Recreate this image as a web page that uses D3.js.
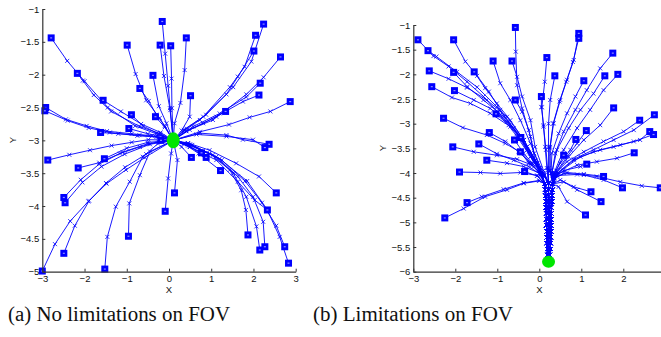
<!DOCTYPE html>
<html>
<head>
<meta charset="utf-8">
<script src="https://cdn.jsdelivr.net/npm/d3@7/dist/d3.min.js"></script>
<style>
  body { margin: 0; background: #fff; }
  svg { display: block; }
  .tick text { font-family: "Liberation Sans", Arial, sans-serif; font-size: 9.5px; fill: #111; }
  .axis path, .axis line { stroke: #333; }
  .lbl { font-family: "Liberation Sans", Arial, sans-serif; font-size: 9.5px; fill: #111; }
  .caption { font-family: "Liberation Serif", "DejaVu Serif", serif; font-size: 20px; fill: #111; }
</style>
</head>
<body>
<svg width="661" height="337"></svg>
<script>
// ---- data ---------------------------------------------------------------
// (a) every trajectory: start square first, then the sampled points; goal is appended
const goalA = [0.1, -3.0];
const trajA = [
  [[-2.79,-1.44],[-2.41,-1.79],[-2.0,-2.1],[-1.45,-2.5],[-0.8,-2.78],[-0.3,-2.9]],
  [[-2.17,-1.98],[-2.04,-2.09],[-1.78,-2.31],[-1.37,-2.56],[-0.69,-2.79],[-0.2,-2.9]],
  [[-1.56,-2.39],[-1.14,-2.56],[-0.66,-2.75],[-0.2,-2.88]],
  [[-2.92,-2.50],[-2.44,-2.68],[-1.95,-2.78],[-1.47,-2.86],[-0.88,-2.9],[-0.4,-2.93]],
  [[-2.94,-2.55],[-2.40,-2.70],[-1.90,-2.81],[-1.40,-2.88],[-0.75,-2.93],[-0.3,-2.95]],
  [[-0.89,-2.61],[-0.62,-2.78],[-0.25,-2.9]],
  [[-0.95,-2.82],[-0.5,-2.9],[-0.15,-2.94]],
  [[-1.62,-2.88],[-1.2,-2.9],[-0.7,-2.92],[-0.25,-2.95]],
  [[-0.32,-2.64],[-0.1,-2.8]],
  [[-0.69,-2.21],[-0.48,-2.40],[-0.30,-2.61],[-0.10,-2.78]],
  [[-0.38,-2.01],[-0.24,-2.48],[-0.06,-2.74]],
  [[-0.99,-1.55],[-0.79,-1.99],[-0.54,-2.39],[-0.22,-2.66]],
  [[-0.16,-1.19],[-0.09,-1.68],[-0.02,-2.17],[0.03,-2.54]],
  [[-0.21,-1.55],[-0.12,-2.02],[0.02,-2.51]],
  [[0.04,-1.56],[0.06,-2.06],[0.07,-2.51]],
  [[0.41,-1.44],[0.37,-1.93],[0.27,-2.43],[0.13,-2.74]],
  [[0.51,-2.32],[0.49,-2.64],[0.3,-2.85]],
  [[2.24,-1.23],[1.95,-1.80],[1.52,-2.19],[0.88,-2.61],[0.41,-2.82]],
  [[2.05,-1.40],[1.79,-1.88],[1.44,-2.19],[0.81,-2.64],[0.35,-2.84]],
  [[2.01,-1.64],[1.63,-2.03],[1.36,-2.30],[0.73,-2.69],[0.35,-2.86]],
  [[2.64,-1.73],[2.24,-2.04],[1.83,-2.30],[1.04,-2.69],[0.41,-2.86]],
  [[2.16,-2.13],[1.83,-2.34],[1.20,-2.59],[0.57,-2.79]],
  [[2.13,-2.31],[1.75,-2.41],[1.12,-2.64],[0.49,-2.84]],
  [[2.87,-2.41],[2.40,-2.56],[1.91,-2.65],[1.42,-2.76],[0.73,-2.87]],
  [[1.34,-2.56],[0.81,-2.74],[0.41,-2.86]],
  [[2.37,-3.06],[1.75,-2.99],[1.36,-2.92],[0.73,-2.89]],
  [[2.27,-3.11],[1.99,-2.99],[1.36,-2.94],[0.65,-2.91]],
  [[0.53,-3.26],[0.3,-3.1]],
  [[0.77,-3.19],[0.45,-3.08]],
  [[0.88,-3.26],[0.5,-3.1]],
  [[1.22,-3.46],[0.7,-3.2],[0.35,-3.05]],
  [[2.54,-3.80],[2.13,-3.55],[1.59,-3.35],[0.96,-3.15],[0.45,-3.04]],
  [[2.33,-4.06],[2.03,-3.91],[1.63,-3.63],[1.12,-3.30],[0.49,-3.10]],
  [[1.87,-4.44],[1.82,-4.06],[1.71,-3.76],[1.44,-3.45],[0.96,-3.20],[0.45,-3.06]],
  [[2.15,-4.67],[2.07,-4.31],[1.83,-3.86],[1.52,-3.50],[1.04,-3.22],[0.45,-3.05]],
  [[2.27,-4.62],[2.23,-4.24],[1.99,-3.86],[1.63,-3.55],[1.12,-3.25],[0.5,-3.06]],
  [[2.74,-4.62],[2.54,-4.30],[2.20,-3.95],[1.80,-3.62],[1.25,-3.30],[0.55,-3.07]],
  [[2.83,-4.87],[2.62,-4.47],[2.32,-4.05],[1.85,-3.62],[1.2,-3.28],[0.5,-3.08]],
  [[-0.19,-3.0]],
  [[-2.87,-3.30],[-2.36,-3.22],[-1.87,-3.15],[-1.36,-3.08],[-0.88,-3.03],[-0.49,-2.99]],
  [[-2.15,-3.42],[-1.65,-3.34],[-1.16,-3.20],[-0.69,-3.10],[-0.25,-3.02]],
  [[-1.53,-3.28],[-1.0,-3.12],[-0.5,-3.03]],
  [[-2.49,-3.87],[-2.09,-3.60],[-1.65,-3.36],[-1.1,-3.18],[-0.5,-3.05]],
  [[-2.46,-3.95],[-2.05,-3.64],[-1.6,-3.40],[-1.05,-3.21],[-0.45,-3.06]],
  [[-2.49,-4.72],[-2.23,-4.30],[-1.89,-3.92],[-1.49,-3.65],[-1.04,-3.41],[-0.54,-3.21]],
  [[-3.0,-4.99],[-2.70,-4.58],[-2.34,-4.23],[-1.91,-3.93],[-1.48,-3.66],[-1.02,-3.45],[-0.57,-3.26]],
  [[-1.52,-4.96],[-1.46,-4.47],[-1.26,-4.01],[-0.93,-3.63],[-0.62,-3.25],[-0.26,-3.05]],
  [[-0.96,-4.46],[-0.94,-3.96],[-0.69,-3.53],[-0.45,-3.17]],
  [[-0.09,-4.08],[-0.02,-3.58],[0.05,-3.2]],
  [[0.13,-3.80],[0.20,-3.30]]
];

// (b) trajectories run into the funnel, then follow one of three lanes down to the goal
const goalB = [0.22, -5.8];
const tailL = [[0.13,-4.22],[0.14,-4.34],[0.15,-4.46],[0.16,-4.58],[0.16,-4.7],[0.17,-4.82],[0.17,-4.94],
  [0.17,-5.06],[0.18,-5.18],[0.18,-5.3],[0.18,-5.42],[0.19,-5.54],[0.2,-5.66]];
const tailM = [[0.22,-4.2],[0.22,-4.32],[0.22,-4.44],[0.23,-4.56],[0.23,-4.68],[0.23,-4.8],[0.23,-4.92],
  [0.23,-5.04],[0.23,-5.16],[0.22,-5.28],[0.22,-5.4],[0.22,-5.52],[0.22,-5.64]];
const tailR = [[0.32,-4.22],[0.31,-4.34],[0.3,-4.46],[0.3,-4.58],[0.29,-4.7],[0.29,-4.82],[0.28,-4.94],
  [0.28,-5.06],[0.28,-5.18],[0.27,-5.3],[0.27,-5.42],[0.26,-5.54],[0.25,-5.66]];

const trajBL = [
  [[-2.89,-1.30],[-2.52,-1.63],[-2.16,-1.84],[-1.72,-2.15],[-1.33,-2.45],[-0.93,-2.82],[-0.53,-3.26],[-0.21,-3.67],[0.05,-4.02]],
  [[-2.65,-1.52],[-2.45,-1.64],[-1.96,-1.95],[-1.48,-2.26],[-1.01,-2.66],[-0.61,-3.09],[-0.25,-3.57],[0.04,-4.0]],
  [[-2.62,-1.93],[-2.16,-2.09],[-1.72,-2.27],[-1.25,-2.52],[-0.77,-2.86],[-0.37,-3.33],[-0.05,-3.8],[0.08,-4.05]],
  [[-2.56,-2.25],[-2.08,-2.47],[-1.64,-2.59],[-1.17,-2.79],[-0.69,-3.06],[-0.29,-3.47],[0.0,-3.9]],
  [[-2.04,-1.30],[-1.76,-1.74],[-1.48,-2.03],[-1.2,-2.35],[-0.93,-2.72],[-0.53,-3.20],[-0.21,-3.67],[0.05,-4.02]],
  [[-2.04,-1.96],[-1.72,-2.25],[-1.33,-2.52],[-0.85,-2.86],[-0.45,-3.26],[-0.1,-3.75]],
  [[-2.02,-2.33],[-1.56,-2.52],[-1.17,-2.69],[-0.77,-2.96],[-0.37,-3.33],[-0.05,-3.8]],
  [[-1.55,-1.95],[-1.29,-2.28],[-1.01,-2.59],[-0.69,-2.93],[-0.37,-3.33],[-0.08,-3.78]],
  [[-1.10,-1.73],[-0.93,-2.18],[-0.69,-2.52],[-0.45,-2.93],[-0.21,-3.40],[0.02,-3.9]],
  [[-1.03,-2.80],[-0.73,-3.03],[-0.45,-3.26],[-0.21,-3.60],[0.0,-3.95]],
  [[-2.28,-2.89],[-1.82,-3.08],[-1.25,-3.23],[-0.81,-3.40],[-0.41,-3.60],[-0.13,-3.87],[0.05,-4.05]],
  [[-1.19,-3.18],[-0.81,-3.36],[-0.49,-3.57],[-0.21,-3.80],[0.03,-4.02]],
  [[-1.44,-3.41],[-1.01,-3.61],[-0.61,-3.74],[-0.25,-3.87],[0.03,-4.03]],
  [[-2.06,-3.47],[-1.56,-3.57],[-1.01,-3.64],[-0.53,-3.72],[-0.17,-3.84],[0.05,-4.03]],
  [[-1.25,-3.74],[-0.77,-3.80],[-0.37,-3.87],[0.0,-4.0]],
  [[-1.90,-3.98],[-1.40,-3.99],[-0.93,-4.01],[-0.45,-3.99],[-0.05,-4.05]],
  [[-0.35,-3.97],[-0.05,-4.06]],
  [[-1.72,-4.60],[-1.37,-4.48],[-0.85,-4.33],[-0.37,-4.20],[0.0,-4.15]],
  [[-2.25,-4.91],[-1.80,-4.72],[-1.29,-4.48],[-0.77,-4.34],[-0.37,-4.21],[0.0,-4.16]]
];
const trajBM = [
  [[-0.65,-1.73],[-0.53,-2.05],[-0.41,-2.45],[-0.21,-2.93],[-0.10,-3.47],[0.1,-3.95]],
  [[-0.57,-1.05],[-0.56,-1.54],[-0.53,-2.22],[-0.41,-2.69],[-0.21,-3.26],[-0.10,-3.74],[0.12,-4.05]],
  [[-0.57,-2.52],[-0.41,-2.76],[-0.25,-3.13],[-0.12,-3.60],[0.1,-4.0]],
  [[-0.59,-3.33],[-0.37,-3.60],[-0.17,-3.80],[0.1,-4.05]],
  [[-0.44,-3.28],[-0.29,-3.53],[-0.13,-3.77],[0.12,-4.05]],
  [[-0.45,-3.57],[-0.25,-3.80],[0.1,-4.05]],
  [[0.05,-2.45],[0.05,-2.66],[0.10,-3.03],[0.14,-3.47],[0.18,-3.9]],
  [[0.18,-1.66],[0.13,-2.15],[0.06,-2.67],[0.10,-3.06],[0.16,-3.53],[0.2,-3.95]],
  [[0.37,-2.03],[0.26,-2.52],[0.22,-3.0],[0.22,-3.47],[0.22,-3.9]]
];
const trajBR = [
  [[0.94,-1.17],[0.82,-1.71],[0.66,-2.11],[0.50,-2.52],[0.34,-2.99],[0.26,-3.47],[0.25,-3.95]],
  [[0.94,-1.27],[0.80,-1.75],[0.64,-2.15],[0.48,-2.55],[0.33,-3.0],[0.25,-3.5],[0.26,-3.95]],
  [[1.06,-2.13],[0.86,-2.45],[0.66,-2.79],[0.46,-3.20],[0.30,-3.60],[0.28,-4.0]],
  [[1.75,-1.57],[1.45,-1.88],[1.13,-2.32],[0.86,-2.72],[0.58,-3.16],[0.38,-3.60],[0.3,-4.0]],
  [[1.56,-2.03],[1.29,-2.39],[0.98,-2.72],[0.70,-3.09],[0.42,-3.53],[0.3,-4.0]],
  [[1.87,-2.00],[1.53,-2.32],[1.21,-2.72],[0.90,-3.09],[0.58,-3.53],[0.35,-4.0]],
  [[1.77,-2.68],[1.45,-3.03],[1.06,-3.33],[0.70,-3.67],[0.38,-4.02]],
  [[0.87,-3.32],[0.74,-3.53],[0.50,-3.80],[0.32,-4.05]],
  [[1.12,-3.14],[0.90,-3.40],[0.66,-3.67],[0.36,-4.03]],
  [[2.39,-2.93],[2.01,-3.16],[1.53,-3.36],[1.06,-3.57],[0.66,-3.77],[0.36,-4.03]],
  [[2.74,-2.82],[2.25,-3.13],[1.77,-3.33],[1.29,-3.53],[0.82,-3.72],[0.4,-4.02]],
  [[2.63,-3.16],[2.40,-3.33],[1.93,-3.43],[1.45,-3.53],[0.98,-3.67],[0.45,-4.0]],
  [[2.72,-3.22],[2.25,-3.36],[1.77,-3.47],[1.29,-3.57],[0.82,-3.74],[0.4,-4.03]],
  [[2.26,-3.59],[1.85,-3.70],[1.37,-3.77],[0.90,-3.84],[0.45,-4.02]],
  [[0.58,-3.64],[0.4,-3.95]],
  [[1.13,-3.82],[0.98,-3.87],[0.58,-3.95],[0.35,-4.08]],
  [[1.53,-4.07],[1.06,-4.02],[0.66,-3.99],[0.36,-4.1]],
  [[1.98,-4.30],[1.53,-4.14],[1.06,-4.04],[0.58,-4.0],[0.36,-4.12]],
  [[2.88,-4.30],[2.44,-4.26],[1.93,-4.18],[1.37,-4.07],[0.90,-4.03],[0.42,-4.05]],
  [[1.23,-4.38],[0.82,-4.28],[0.50,-4.14]],
  [[1.47,-4.58],[0.90,-4.34],[0.58,-4.18]],
  [[1.10,-4.85],[0.66,-4.58],[0.46,-4.28]]
];

const xTicksA = [-3, -2, -1, 0, 1, 2, 3];
const yTicksA = [-5, -4.5, -4, -3.5, -3, -2.5, -2, -1.5, -1];
const xTicksB = [-3, -2, -1, 0, 1, 2];
const yTicksB = [-6, -5.5, -5, -4.5, -4, -3.5, -3, -2.5, -2, -1.5, -1];
const captions = ['(a) No limitations on FOV', '(b) Limitations on FOV'];

// ---- drawing ------------------------------------------------------------
const svg = d3.select('svg');
const BLUE = '#0000ff';
const GREEN = '#00e600';
const fmt = d3.format('');

function drawPanel(opt) {
  const x = d3.scaleLinear().domain(opt.xDom).range(opt.xRange);
  const y = d3.scaleLinear().domain(opt.yDom).range(opt.yRange);
  const g = svg.append('g');

  const paths = opt.paths;
  const line = d3.line().x(d => x(d[0])).y(d => y(d[1]));

  g.append('g').selectAll('path')
    .data(paths)
    .enter().append('path')
      .attr('d', line)
      .attr('fill', 'none')
      .attr('stroke', BLUE)
      .attr('stroke-width', 0.9);

  // x markers on the sampled points (not on start or goal)
  const mids = paths.flatMap(p => p.slice(1, -1));
  g.append('g').selectAll('path')
    .data(mids)
    .enter().append('path')
      .attr('d', 'M-2,-2L2,2M-2,2L2,-2')
      .attr('transform', d => `translate(${x(d[0])},${y(d[1])})`)
      .attr('stroke', BLUE)
      .attr('stroke-width', 0.8);

  // start squares
  const starts = g.append('g').selectAll('g')
    .data(paths.map(p => p[0]))
    .enter().append('g')
      .attr('transform', d => `translate(${x(d[0])},${y(d[1])})`);
  starts.append('rect')
    .attr('x', -3.5).attr('y', -3.5).attr('width', 7).attr('height', 7)
    .attr('fill', BLUE);
  starts.append('rect')
    .attr('x', -1).attr('y', -0.6).attr('width', 2).attr('height', 1.2)
    .attr('fill', '#8c8cff');

  // goal
  g.append('ellipse')
    .attr('cx', x(opt.goal[0])).attr('cy', y(opt.goal[1]))
    .attr('rx', opt.goalR[0]).attr('ry', opt.goalR[1])
    .attr('fill', GREEN);

  // axes (MATLAB style, ticks inward, no box)
  const xa = g.append('g').attr('class', 'axis')
    .attr('transform', `translate(0,${opt.yRange[0]})`)
    .call(d3.axisBottom(x).tickValues(opt.xTicks).tickFormat(fmt)
      .tickSizeInner(-3).tickSizeOuter(0).tickPadding(4));
  const ya = g.append('g').attr('class', 'axis')
    .attr('transform', `translate(${opt.xRange[0]},0)`)
    .call(d3.axisLeft(y).tickValues(opt.yTicks).tickFormat(fmt)
      .tickSizeInner(-3).tickSizeOuter(0).tickPadding(3));
  [xa, ya].forEach(a => a.select('.domain').attr('stroke-width', 1.2));

  g.append('text').attr('class', 'lbl')
    .attr('x', x(0)).attr('y', 293)
    .attr('text-anchor', 'middle')
    .text('X');
  g.append('text').attr('class', 'lbl')
    .attr('transform', `translate(${opt.yLabelX},${opt.yLabelY}) rotate(-90)`)
    .attr('text-anchor', 'middle')
    .text('Y');

  svg.append('text').attr('class', 'caption')
    .attr('x', opt.capX).attr('y', 321)
    .attr('textLength', opt.capW)
    .attr('lengthAdjust', 'spacingAndGlyphs')
    .text(opt.caption);
}

drawPanel({
  paths: trajA.map(p => p.concat([goalA])),
  goal: goalA, goalR: [6.5, 8],
  xDom: [-3, 3], xRange: [42.3, 295.7],
  yDom: [-5, -1], yRange: [271.7, 9],
  xTicks: xTicksA, yTicks: yTicksA,
  yLabelX: 16, yLabelY: 140,
  caption: captions[0], capX: 8, capW: 222
});

drawPanel({
  paths: [].concat(
    trajBL.map(p => p.concat(tailL, [goalB])),
    trajBM.map(p => p.concat(tailM, [goalB])),
    trajBR.map(p => p.concat(tailR, [goalB]))
  ),
  goal: goalB, goalR: [6.5, 6],
  xDom: [-3, 3], xRange: [413.3, 665.3],
  yDom: [-6, -1], yRange: [271.7, 25],
  xTicks: xTicksB, yTicks: yTicksB,
  yLabelX: 386, yLabelY: 148,
  caption: captions[1], capX: 313, capW: 200
});
</script>
</body>
</html>
